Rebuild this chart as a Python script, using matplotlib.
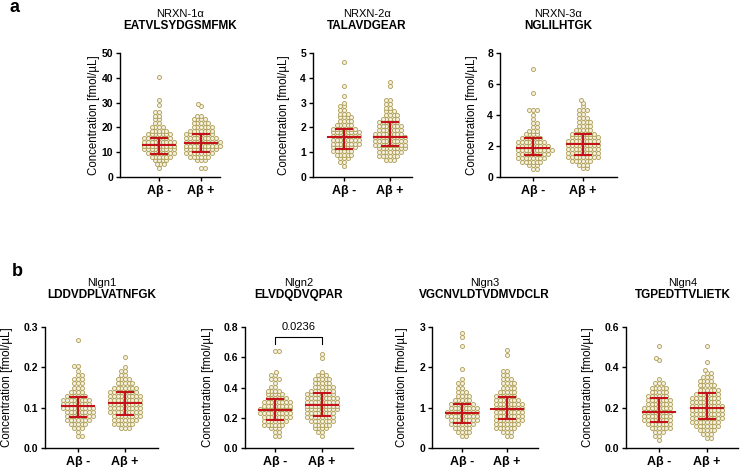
"""
Two-row dot plot figure: NRXN (a) and Nlgn (b) peptide concentrations, Aβ- vs Aβ+.
Dots are laid out as a beeswarm, red bars show median and interquartile range.
"""
import matplotlib
matplotlib.use("Agg")
import matplotlib.pyplot as plt
import matplotlib.transforms as mtransforms
import numpy as np

plt.rcParams["font.family"] = ["Liberation Sans", "DejaVu Sans"]

W, H = 740, 467

groups = ["Aβ -", "Aβ +"]
ylabel = "Concentration [fmol/µL]"

# ---- dot levels and number of dots at each level ----
nrxn1_neg_vals = [3.8, 5.2, 6.7, 8.2, 9.7, 11.2, 12.7, 14.2, 15.7, 17.2, 18.7, 20.2,
                  21.7, 23.2, 24.7, 26.2, 29.0, 31.0, 40.3]
nrxn1_neg_counts = [1, 3, 4, 6, 8, 9, 9, 9, 8, 7, 5, 4, 2, 2, 2, 2, 1, 1, 1]
nrxn1_pos_vals = [3.5, 6.7, 8.2, 9.7, 11.2, 12.7, 14.2, 15.7, 17.2, 18.7, 20.2, 21.7,
                  23.2, 24.7, 28.7, 29.6]
nrxn1_pos_counts = [2, 3, 6, 8, 9, 10, 10, 9, 8, 7, 6, 5, 4, 2, 1, 1]

nrxn2_neg_vals = [0.45, 0.6, 0.75, 0.9, 1.05, 1.2, 1.35, 1.5, 1.65, 1.8, 1.95, 2.1,
                  2.25, 2.4, 2.55, 2.7, 2.85, 3.0, 3.25, 3.65, 4.62]
nrxn2_neg_counts = [1, 2, 3, 5, 6, 7, 8, 8, 8, 8, 7, 5, 4, 4, 3, 2, 2, 1, 1, 1, 1]
nrxn2_pos_vals = [0.7, 0.85, 1.0, 1.15, 1.3, 1.45, 1.6, 1.75, 1.9, 2.05, 2.2, 2.35,
                  2.5, 2.65, 2.8, 2.95, 3.1, 3.68, 3.84]
nrxn2_pos_counts = [3, 6, 7, 8, 9, 9, 9, 8, 7, 7, 6, 5, 4, 3, 2, 2, 2, 1, 1]

nrxn3_neg_vals = [0.5, 0.75, 1.0, 1.25, 1.5, 1.75, 2.0, 2.25, 2.5, 2.75, 3.0, 3.25,
                  3.5, 3.75, 4.0, 4.35, 5.42, 6.95]
nrxn3_neg_counts = [2, 3, 6, 8, 9, 10, 9, 8, 6, 4, 3, 2, 2, 1, 1, 3, 1, 1]
nrxn3_pos_vals = [0.55, 0.8, 1.05, 1.3, 1.55, 1.8, 2.05, 2.3, 2.55, 2.8, 3.05, 3.3,
                  3.55, 3.8, 4.05, 4.3, 4.55, 4.8, 5.0]
nrxn3_pos_counts = [2, 3, 6, 9, 9, 9, 9, 9, 8, 7, 5, 4, 4, 3, 2, 3, 1, 1, 1]

nlgn1_neg_vals = [0.03, 0.04, 0.05, 0.06, 0.07, 0.08, 0.09, 0.10, 0.11, 0.12, 0.13,
                  0.14, 0.15, 0.16, 0.17, 0.18, 0.19, 0.203, 0.267]
nlgn1_neg_counts = [2, 1, 3, 5, 7, 8, 8, 9, 8, 8, 6, 4, 3, 3, 3, 2, 1, 2, 1]
nlgn1_pos_vals = [0.05, 0.06, 0.07, 0.08, 0.09, 0.10, 0.11, 0.12, 0.13, 0.14, 0.15,
                  0.16, 0.17, 0.18, 0.19, 0.20, 0.225]
nlgn1_pos_counts = [3, 6, 7, 8, 9, 9, 9, 9, 9, 8, 7, 5, 4, 2, 2, 1, 1]

nlgn2_neg_vals = [0.08, 0.105, 0.13, 0.155, 0.18, 0.205, 0.23, 0.255, 0.28, 0.305,
                  0.33, 0.355, 0.38, 0.405, 0.43, 0.455, 0.48, 0.503, 0.64]
nlgn2_neg_counts = [2, 2, 3, 6, 7, 8, 9, 9, 8, 8, 6, 5, 4, 2, 1, 3, 2, 1, 2]
nlgn2_pos_vals = [0.08, 0.105, 0.13, 0.155, 0.18, 0.205, 0.23, 0.255, 0.28, 0.305,
                  0.33, 0.355, 0.38, 0.405, 0.43, 0.455, 0.48, 0.505, 0.595, 0.62]
nlgn2_pos_counts = [1, 2, 4, 5, 7, 8, 8, 9, 9, 9, 9, 8, 7, 6, 5, 5, 3, 1, 1, 1]

nlgn3_neg_vals = [0.3, 0.4, 0.5, 0.6, 0.7, 0.8, 0.9, 1.0, 1.1, 1.2, 1.3, 1.4, 1.5,
                  1.6, 1.7, 1.96, 2.53, 2.75, 2.86]
nlgn3_neg_counts = [2, 4, 5, 7, 8, 9, 9, 8, 7, 5, 4, 3, 2, 2, 1, 1, 1, 1, 1]
nlgn3_pos_vals = [0.3, 0.4, 0.5, 0.6, 0.7, 0.8, 0.9, 1.0, 1.1, 1.2, 1.3, 1.4, 1.5,
                  1.6, 1.7, 1.8, 1.9, 2.3, 2.43]
nlgn3_pos_counts = [2, 3, 6, 7, 8, 8, 8, 8, 8, 7, 6, 5, 4, 4, 3, 2, 2, 1, 1]

nlgn4_neg_vals = [0.04, 0.06, 0.08, 0.10, 0.12, 0.14, 0.16, 0.18, 0.20, 0.22, 0.24,
                  0.26, 0.28, 0.30, 0.32, 0.34, 0.435, 0.445, 0.508]
nlgn4_neg_counts = [1, 2, 3, 6, 7, 8, 8, 8, 8, 7, 7, 6, 5, 5, 3, 1, 1, 1, 1]
nlgn4_pos_vals = [0.05, 0.07, 0.09, 0.11, 0.13, 0.15, 0.17, 0.19, 0.21, 0.23, 0.25,
                  0.27, 0.29, 0.31, 0.33, 0.35, 0.37, 0.385, 0.425, 0.508]
nlgn4_pos_counts = [2, 3, 5, 7, 8, 9, 9, 9, 9, 8, 8, 7, 6, 5, 4, 3, 2, 1, 1, 1]

# ---- median, Q1, Q3 per panel (Aβ-, Aβ+) ----
medians = [[12.8, 13.8], [1.6, 1.6], [1.88, 2.12], [0.104, 0.112],
           [0.254, 0.284], [0.88, 0.975], [0.178, 0.198]]
q1 = [[9.2, 10.1], [1.13, 1.25], [1.42, 1.40], [0.078, 0.081],
      [0.184, 0.214], [0.63, 0.71], [0.127, 0.142]]
q3 = [[15.9, 17.5], [1.95, 2.2], [2.52, 2.8], [0.126, 0.139],
      [0.321, 0.365], [1.09, 1.26], [0.247, 0.274]]

proteins = ["NRXN-1α", "NRXN-2α", "NRXN-3α", "Nlgn1", "Nlgn2", "Nlgn3", "Nlgn4"]
peptides = ["EATVLSYDGSMFMK", "TALAVDGEAR", "NGLILHTGK", "LDDVDPLVATNFGK",
            "ELVDQDVQPAR", "VGCNVLDTVDMVDCLR", "TGPEDTTVLIETK"]
yticks = [[0, 10, 20, 30, 40, 50], [0, 1, 2, 3, 4, 5], [0, 2, 4, 6, 8],
          [0.0, 0.1, 0.2, 0.3], [0.0, 0.2, 0.4, 0.6, 0.8], [0, 1, 2, 3],
          [0.0, 0.2, 0.4, 0.6]]
ytick_fmt = ["{:.0f}", "{:.0f}", "{:.0f}", "{:.1f}", "{:.1f}", "{:.0f}", "{:.1f}"]

# Nlgn2 comparison bracket
p_text = "0.0236"
bracket_y, bracket_tip = 0.735, 0.69

panel_vals = [(nrxn1_neg_vals, nrxn1_neg_counts, nrxn1_pos_vals, nrxn1_pos_counts),
              (nrxn2_neg_vals, nrxn2_neg_counts, nrxn2_pos_vals, nrxn2_pos_counts),
              (nrxn3_neg_vals, nrxn3_neg_counts, nrxn3_pos_vals, nrxn3_pos_counts),
              (nlgn1_neg_vals, nlgn1_neg_counts, nlgn1_pos_vals, nlgn1_pos_counts),
              (nlgn2_neg_vals, nlgn2_neg_counts, nlgn2_pos_vals, nlgn2_pos_counts),
              (nlgn3_neg_vals, nlgn3_neg_counts, nlgn3_pos_vals, nlgn3_pos_counts),
              (nlgn4_neg_vals, nlgn4_neg_counts, nlgn4_pos_vals, nlgn4_pos_counts)]

# ---- layout in pixels: y-axis x, x-axis end, tick0 x, tick1 x, top y, zero y, ylabel x ----
layout = [(120, 220, 159, 201, 53, 177, 94),
          (313, 412, 344, 390, 53, 177, 284),
          (500, 617, 533, 583, 53, 177, 472),
          (45, 158, 78, 125, 327, 448, 7),
          (245, 353, 275, 322, 327, 448, 208),
          (432, 538, 462, 507, 327, 448, 402),
          (626, 738, 659, 707, 327, 448, 588)]

DOT_EDGE = "#ad9d55"
DOT_FACE = "#f4f0dc"
RED = "#c3121a"
DOT_D = 3.7  # px between dot centres (dots overlap a little, as in Prism)


def swarm(ypx, d):
    """Greedy beeswarm: x offsets (px) so that no two dots overlap."""
    px_x, px_y, out = [], [], []
    for i, y in enumerate(ypx):
        flip = 1 if i % 2 == 0 else -1
        cands = [0.0]
        for xx, yy in zip(px_x, px_y):
            dy = abs(y - yy)
            if dy < d:
                dx = np.sqrt(d * d - dy * dy)
                cands += [xx + dx, xx - dx]
        cands.sort(key=lambda c: (round(abs(c), 4), c * flip))
        for c in cands:
            if all((c - xx) ** 2 + (y - yy) ** 2 >= d * d - 1e-6
                   for xx, yy in zip(px_x, px_y)):
                break
        px_x.append(c)
        px_y.append(y)
        out.append(c)
    return np.array(out)


fig = plt.figure(figsize=(W / 100, H / 100), dpi=100)

for k, (left, right, t0, t1, top, zero, ylx) in enumerate(layout):
    ax = fig.add_axes([left / W, 1 - zero / H, (right - left) / W, (zero - top) / H])
    sp = t1 - t0
    ax.set_xlim((left - t0) / sp, (right - t0) / sp)
    ymax = yticks[k][-1]
    ax.set_ylim(0, ymax)
    px_per_y = (zero - top) / ymax

    vals = panel_vals[k]
    for g in range(2):
        v = np.repeat(vals[2 * g], vals[2 * g + 1])
        offs = swarm(v * px_per_y, DOT_D) / sp
        ax.scatter(g + offs, v, s=8.5, facecolor=DOT_FACE, edgecolor=DOT_EDGE,
                   linewidth=0.6, zorder=2, clip_on=False)
        med_half, cap_half = 16 / sp, 8 / sp
        ax.plot([g - med_half, g + med_half], [medians[k][g]] * 2, color=RED, lw=1.5, zorder=3)
        ax.plot([g, g], [q1[k][g], q3[k][g]], color=RED, lw=1.5, zorder=3)
        for qv in (q1[k][g], q3[k][g]):
            ax.plot([g - cap_half, g + cap_half], [qv, qv], color=RED, lw=1.5, zorder=3)

    for s in ("top", "right"):
        ax.spines[s].set_visible(False)
    for s in ("left", "bottom"):
        ax.spines[s].set_linewidth(1.0)
    ax.set_xticks([0, 1])
    ax.set_xticklabels(groups, fontsize=9, fontweight="bold")
    ax.set_yticks(yticks[k])
    ax.set_yticklabels([ytick_fmt[k].format(t) for t in yticks[k]],
                       fontsize=7.5, fontweight="bold")
    ax.tick_params(direction="out", length=3, width=1.0, pad=2)
    ax.tick_params(axis="x", pad=3)

    fig.text(ylx / W, 1 - (top + zero) / 2 / H, ylabel, rotation=90,
             ha="center", va="center", fontsize=8.3)

    trans = mtransforms.blended_transform_factory(ax.transData, fig.transFigure)
    ty = 14 if k < 3 else 283
    ax.text(0.5, 1 - ty / H, proteins[k], transform=trans, ha="center",
            va="center", fontsize=8)
    ax.text(0.5, 1 - (ty + 12) / H, peptides[k], transform=trans, ha="center",
            va="center", fontsize=8.5, fontweight="bold")

    if k == 4:
        ax.plot([0, 0, 1, 1], [bracket_tip, bracket_y, bracket_y, bracket_tip],
                color="black", lw=0.8, clip_on=False)
        ax.text(0.5, ymax, p_text, ha="center", va="center", fontsize=8, clip_on=False)

fig.text(14 / W, 1 - 8 / H, "a", fontsize=13, fontweight="bold", ha="center", va="center")
fig.text(17 / W, 1 - 272 / H, "b", fontsize=13, fontweight="bold", ha="center", va="center")

fig.savefig("out.png", dpi=100)
plt.close(fig)
